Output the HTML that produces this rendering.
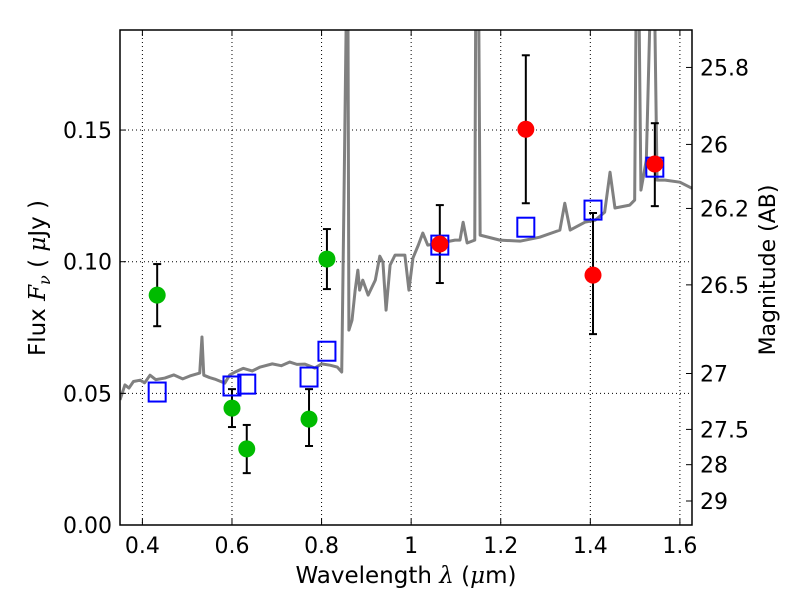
<!DOCTYPE html>
<html><head><meta charset="utf-8"><style>
html,body{margin:0;padding:0;background:#fff;}
svg{display:block;font-family:"DejaVu Sans","Liberation Sans",sans-serif;}
</style></head><body>
<svg id="chart" width="800" height="600" viewBox="0 0 800 600" xmlns="http://www.w3.org/2000/svg">
<defs><clipPath id="clip"><rect x="120" y="30" width="572" height="495"/></clipPath></defs>
<rect x="0" y="0" width="800" height="600" fill="#fff"/>
<g id="grid"></g>
<g id="spec" clip-path="url(#clip)"></g>
<g id="marks" clip-path="url(#clip)"></g>
<rect x="120" y="30" width="572" height="495" fill="none" stroke="#000" stroke-width="1.5"/>
<g id="axes"></g>
<text x="406" y="583" font-size="23" text-anchor="middle">Wavelength  <tspan font-style="italic" font-family="DejaVu Serif">λ</tspan> (<tspan font-style="italic" font-family="DejaVu Serif">μ</tspan>m)</text>
<text transform="translate(45,278) rotate(-90)" font-size="23" text-anchor="middle">Flux  <tspan font-style="italic" font-family="DejaVu Serif">F<tspan font-size="16" dy="5">ν</tspan></tspan><tspan dy="-5">  (  </tspan><tspan font-style="italic" font-family="DejaVu Serif">μ</tspan>Jy )</text>
<text transform="translate(775,270) rotate(-90)" font-size="22" text-anchor="middle">Magnitude (AB)</text>
</svg>
<script>
const specWl=[0.35,0.361,0.370,0.380,0.395,0.405,0.417,0.430,0.450,0.470,0.490,0.506,0.528,0.533,0.537,0.550,0.562,0.575,0.584,0.595,0.607,0.625,0.645,0.663,0.690,0.710,0.729,0.745,0.763,0.785,0.800,0.819,0.835,0.845,0.850,0.855,0.859,0.861,0.868,0.875,0.881,0.885,0.892,0.904,0.920,0.930,0.937,0.944,0.953,0.964,0.986,0.995,1.004,1.016,1.026,1.037,1.065,1.098,1.109,1.116,1.125,1.142,1.144,1.151,1.154,1.198,1.243,1.287,1.332,1.343,1.355,1.388,1.411,1.432,1.444,1.455,1.488,1.499,1.502,1.509,1.513,1.525,1.533,1.544,1.549,1.567,1.600,1.627];
const specFlux=[0.0475,0.0532,0.0520,0.0545,0.0550,0.0540,0.0569,0.0552,0.0558,0.0570,0.0555,0.0566,0.0577,0.0714,0.0569,0.0560,0.0554,0.0545,0.0539,0.0570,0.0581,0.0595,0.0585,0.0600,0.0612,0.0605,0.0619,0.0610,0.0611,0.0596,0.0612,0.0607,0.0600,0.0581,0.1234,0.192,0.192,0.0740,0.0778,0.0892,0.0968,0.0892,0.0930,0.0873,0.0930,0.1021,0.0998,0.0816,0.0987,0.1025,0.1025,0.0892,0.1014,0.1063,0.1109,0.1063,0.1071,0.1082,0.1082,0.1150,0.1071,0.1082,0.192,0.192,0.1101,0.1082,0.1078,0.1093,0.1120,0.1222,0.1120,0.1150,0.1158,0.1188,0.1340,0.1204,0.1215,0.1234,0.192,0.192,0.1272,0.1386,0.192,0.192,0.1310,0.1310,0.1302,0.1279];
const boxWl=[0.433,0.600,0.633,0.772,0.812,1.064,1.256,1.406,1.544];
const boxFlux=[0.0505,0.0528,0.0535,0.0562,0.066,0.1063,0.1131,0.1196,0.1359];
const greenWl=[0.433,0.600,0.633,0.772,0.812];
const greenFlux=[0.0873,0.0444,0.0289,0.0402,0.101];
const greenHi=[0.0991,0.0516,0.038,0.0516,0.1124];
const greenLo=[0.0755,0.0372,0.0197,0.030,0.0896];
const redWl=[1.064,1.256,1.406,1.544];
const redFlux=[0.1067,0.1503,0.0949,0.1371];
const redHi=[0.1215,0.1784,0.1185,0.1526];
const redLo=[0.0919,0.1222,0.0725,0.1211];
const xTicks=[0.4,0.6,0.8,1.0,1.2,1.4,1.6];
const xTickLabels=["0.4","0.6","0.8","1","1.2","1.4","1.6"];
const yTicks=[0,0.05,0.10,0.15];
const yTickLabels=["0.00","0.05","0.10","0.15"];
const magTicks=[25.8,26,26.2,26.5,27,27.5,28,29];
const magTickLabels=["25.8","26","26.2","26.5","27","27.5","28","29"];

const X0=120,X1=692,Y0=525,Y1=30,XMIN=0.35,XMAX=1.627,YMIN=0,YMAX=0.188;
const sx=v=>X0+(v-XMIN)/(XMAX-XMIN)*(X1-X0);
const sy=v=>Y0-(v-YMIN)/(YMAX-YMIN)*(Y0-Y1);
const NS="http://www.w3.org/2000/svg";
function mk(tag,attrs,parent){const e=document.createElementNS(NS,tag);for(const k in attrs)e.setAttribute(k,attrs[k]);parent.appendChild(e);return e;}
const grid=document.getElementById('grid'),axes=document.getElementById('axes'),spec=document.getElementById('spec'),marks=document.getElementById('marks');

xTicks.forEach((t,i)=>{const x=sx(t);
 const g=mk('line',{x1:x,x2:x,y1:Y1,y2:Y0,stroke:'#000','stroke-width':1,'stroke-dasharray':'1,3'},grid);
 
 
 mk('line',{x1:x,x2:x,y1:Y0,y2:Y0-6,stroke:'#000'},axes);
 mk('line',{x1:x,x2:x,y1:Y1,y2:Y1+6,stroke:'#000'},axes);
 const l=mk('text',{x:x,y:Y0+28,'font-size':22,'text-anchor':'middle'},axes);l.textContent=xTickLabels[i];
 
 
});
yTicks.forEach((t,i)=>{const y=sy(t);
 const g=mk('line',{x1:X0,x2:X1,y1:y,y2:y,stroke:'#000','stroke-width':1,'stroke-dasharray':'1,3'},grid);
 
 
 mk('line',{x1:X0,x2:X0+6,y1:y,y2:y,stroke:'#000'},axes);
 const l=mk('text',{x:X0-8,y:y+8,'font-size':22,'text-anchor':'end'},axes);l.textContent=yTickLabels[i];
 
 
});
magTicks.forEach((m,i)=>{const f=Math.pow(10,(23.9-m)/2.5);const y=sy(f);
 mk('line',{x1:X1,x2:X1-6,y1:y,y2:y,stroke:'#000'},axes);
 const l=mk('text',{x:X1+8,y:y+8,'font-size':22,'text-anchor':'start'},axes);l.textContent=magTickLabels[i];
 
 
});
const p=mk('polyline',{points:specWl.map((w,i)=>sx(w)+','+sy(specFlux[i])).join(' '),fill:'none',stroke:'#808080','stroke-width':3,'stroke-linejoin':'round'},spec);


function errbar(w,lo,hi){const x=sx(w);
 mk('line',{x1:x,x2:x,y1:sy(lo),y2:sy(hi),stroke:'#000','stroke-width':2},marks);
 mk('line',{x1:x-4,x2:x+4,y1:sy(lo),y2:sy(lo),stroke:'#000','stroke-width':2},marks);
 mk('line',{x1:x-4,x2:x+4,y1:sy(hi),y2:sy(hi),stroke:'#000','stroke-width':2},marks);}
greenWl.forEach((w,i)=>errbar(w,greenLo[i],greenHi[i]));
redWl.forEach((w,i)=>errbar(w,redLo[i],redHi[i]));
boxWl.forEach((w,i)=>{const r=mk('rect',{x:sx(w)-8.5,y:sy(boxFlux[i])-9.5,width:17,height:19,fill:'none',stroke:'#0000ff','stroke-width':2},marks);
 
 });
greenWl.forEach((w,i)=>{const c=mk('circle',{cx:sx(w),cy:sy(greenFlux[i]),r:8.5,fill:'#00bb00'},marks);
 
 });
redWl.forEach((w,i)=>{const c=mk('circle',{cx:sx(w),cy:sy(redFlux[i]),r:8.5,fill:'#ff0000'},marks);
 
 });
</script>
</body></html>
